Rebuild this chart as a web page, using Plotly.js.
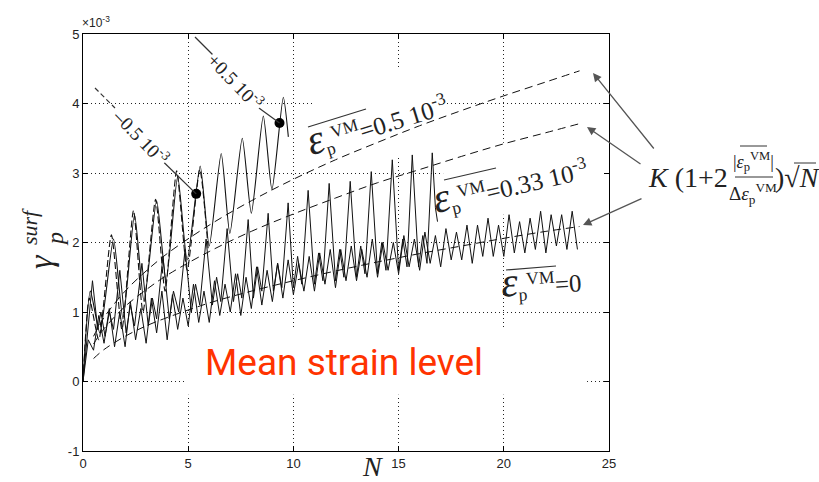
<!DOCTYPE html>
<html>
<head>
<meta charset="utf-8">
<script src="https://cdn.plot.ly/plotly-3.0.1.min.js"></script>
<style>html,body{margin:0;padding:0;background:#fff}#chart{width:819px;height:482px}</style>
</head>
<body>
<div id="chart"></div>
<script>
// ---- data (values in units of 1e-3) ----
// fitted curves K(1+2|e|/de)sqrt(N)
var fitN = [0.5, 1, 2, 3, 4, 6, 8, 10, 12, 14, 16, 18, 20, 22, 23.6];
var fitZero = [0.33, 0.46, 0.65, 0.80, 0.92, 1.13, 1.30, 1.45, 1.59, 1.72, 1.84, 1.95, 2.06, 2.16, 2.23];
var fit033 = [0.54, 0.76, 1.08, 1.32, 1.53, 1.87, 2.16, 2.41, 2.64, 2.86, 3.05, 3.24, 3.42, 3.58, 3.71];
var fit05 = [0.65, 0.92, 1.30, 1.59, 1.84, 2.25, 2.60, 2.91, 3.19, 3.44, 3.68, 3.90, 4.11, 4.31, 4.47];

// mean strain 0 simulation
var zeroN = [0,0.25,0.5,0.75,1,1.25,1.5,1.75,2,2.25,2.5,2.75,3,3.25,3.5,3.75,4,4.25,4.5,4.75,
  5,5.25,5.5,5.75,6,6.25,6.5,6.75,7,7.25,7.5,7.75,8,8.25,8.5,8.75,9,9.25,9.5,9.75,
  10,10.25,10.5,10.75,11,11.25,11.5,11.75,12,12.25,12.5,12.75,13,13.25,13.5,13.75,14,14.25,14.5,14.75,
  15,15.25,15.5,15.75,16,16.25,16.5,16.75,17,17.25,17.5,17.75,18,18.25,18.5,18.75,19,19.25,19.5,19.75,
  20,20.25,20.5,20.75,21,21.25,21.5,21.75,22,22.25,22.5,22.75,23,23.25,23.5];
var zeroY = [0,0.6,0.45,0.95, 0.55,1.05,0.5,1.0, 0.5,1.15,0.6,1.05, 0.55,1.2,0.7,1.3, 0.6,1.25,0.75,1.2,
  0.8,1.4,0.85,1.3, 0.85,1.45,0.95,1.4, 1.0,1.55,0.95,1.5, 1.05,1.65,1.1,1.6, 1.15,1.7,1.2,1.75,
  1.25,1.7,1.3,1.8, 1.3,1.85,1.4,1.9, 1.35,1.9,1.45,1.95, 1.45,1.9,1.5,2.05, 1.5,2.0,1.6,2.0,
  1.55,2.1,1.65,2.05, 1.6,2.15,1.7,2.1, 1.65,2.2,1.75,2.15, 1.75,2.25,1.7,2.25, 1.8,2.35,1.8,2.25,
  1.8,2.4,1.85,2.3, 1.85,2.35,1.9,2.45, 1.85,2.4,1.95,2.4, 1.9,2.45,1.9];

// mean strain 0.33e-3 simulation
var m033N = [0,0.2,0.45,0.7,0.85,1.05,1.25,1.45,1.75,
  2.05,2.25,2.45,2.8, 3.1,3.3,3.5,3.8, 4.1,4.3,4.55,4.85, 5.15,5.35,5.55,5.85,
  6.15,6.35,6.55,6.85, 7.15,7.35,7.55,7.85, 8.1,8.3,8.5,8.8, 9.05,9.25,9.45,9.75,
  10.0,10.2,10.4,10.7, 11.0,11.2,11.4,11.7, 12.0,12.2,12.4,12.7, 13.0,13.2,13.4,13.7,
  14.0,14.2,14.4,14.7, 15.0,15.2,15.4,15.65, 15.95,16.15,16.35,16.6, 16.75,16.85];
var m033Y = [0,0.7,1.45,0.75,1.0,0.65,1.0,0.75,1.6,
  0.7,1.1,0.8,1.7, 0.8,1.2,0.9,1.8, 0.9,1.3,1.0,1.9, 1.0,1.4,1.1,2.05,
  1.1,1.5,1.15,2.2, 1.15,1.55,1.2,2.33, 1.2,1.65,1.3,2.42, 1.3,1.7,1.35,2.57,
  1.35,1.8,1.4,2.75, 1.4,1.85,1.45,2.85, 1.45,1.9,1.5,2.88, 1.5,1.95,1.55,3.02,
  1.55,2.0,1.6,3.19, 1.6,2.05,1.65,3.26, 1.65,2.1,1.7,3.29, 2.5,2.3];

// mean strain +0.5e-3 simulation
var plusN = [0,0.35,0.8,1.45,1.9,2.45,2.9,3.5,3.95,4.5,4.95,5.57,6.0,6.57,6.98,7.57,8.0,8.57,8.98,9.52,9.76];
var plusY = [0,1.3,0.7,2.05,0.9,2.4,1.15,2.6,1.45,2.95,1.75,3.1,1.95,3.28,2.13,3.5,2.42,3.82,2.76,4.09,3.52];

// mean strain -0.5e-3 simulation
var minusN = [0,0.3,0.75,1.35,1.85,2.4,2.85,3.45,3.9,4.45,4.95,5.55,5.95];
var minusY = [0,1.2,0.6,2.11,0.75,2.46,1.0,2.62,1.3,3.03,1.6,3.05,1.9];

// highlighted points
var markN = [5.38, 9.34];
var markY = [2.70, 3.72];

var xTicks = [0, 5, 10, 15, 20, 25];
var yTicks = [-1, 0, 1, 2, 3, 4, 5];

// ---- helpers for placing text in pixels ----
var L = 83, R = 210, T = 34, B = 31, W = 819, H = 482;
function PX(p) { return (p - L) / (W - L - R); }
function PY(p) { return (H - B - p) / (H - T - B); }
function DX(p) { return (p - 82.7) / 21.05; }
function DY(p) { return (381.7 - p) / 69.5; }

var serif = 'Liberation Serif, Times New Roman, serif';
var dashFit = '8px,5px';

var traces = [
  {x: zeroN, y: zeroY, mode: 'lines', line: {color: '#111', width: 1}},
  {x: m033N, y: m033Y, mode: 'lines', line: {color: '#111', width: 1}},
  {x: minusN, y: minusY, mode: 'lines', line: {color: '#111', width: 1.1, dash: '7px,3px', shape: 'spline', smoothing: 0.6}},
  {x: plusN, y: plusY, mode: 'lines', line: {color: '#111', width: 1.1, shape: 'spline', smoothing: 0.6}},
  {x: fitN, y: fitZero, mode: 'lines', line: {color: '#111', width: 1, dash: dashFit, shape: 'spline'}},
  {x: fitN, y: fit033, mode: 'lines', line: {color: '#111', width: 1, dash: dashFit, shape: 'spline'}},
  {x: fitN, y: fit05, mode: 'lines', line: {color: '#111', width: 1, dash: dashFit, shape: 'spline'}},
  {x: markN, y: markY, mode: 'markers', marker: {color: '#000', size: 10}}
];

function pa(px, py, text, size, opts) {
  var a = {xref: 'paper', yref: 'paper', x: PX(px), y: PY(py), xanchor: 'center', yanchor: 'middle',
    showarrow: false, text: text, font: {family: serif, size: size, color: '#222'}};
  return Object.assign(a, opts || {});
}

var epsBig = '<span style="font-size:42px"><i>ε</i></span>';
var epsSmall = '<i>ε</i>';
var annotations = [
  // axis extras
  pa(80, 22, '×10<sup>-3</sup>', 12, {xanchor: 'left', font: {family: 'Liberation Sans, Arial, sans-serif', size: 12, color: '#222'}}),
  pa(372, 466, '<i>N</i>', 28),
  pa(40, 262, '<i>γ</i>', 34, {textangle: -90}),
  pa(29, 227, '<i>surf</i>', 22, {textangle: -90}),
  pa(55, 239, '<i>p</i>', 24, {textangle: -90}),
  // curve labels
  pa(376, 121, epsBig + '<sub>p</sub><sup>VM</sup>=0.5 10<sup>-3</sup>', 25, {textangle: -17}),
  pa(509, 182, epsBig + '<sub>p</sub><sup>VM</sup>=0.33 10<sup>-3</sup>', 25, {textangle: -13}),
  pa(541, 280, epsBig + '<sub>p</sub><sup>VM</sup>=0', 25, {textangle: -4}),
  pa(141, 136, '–0.5 10<sup>-3</sup>', 19, {textangle: 46, bgcolor: '#fff', borderpad: 0}),
  pa(236, 81, '+0.5 10<sup>-3</sup>', 19, {textangle: 46, bgcolor: '#fff', borderpad: 0}),
  // overlay caption
  pa(344, 362, 'Mean strain level', 37, {font: {family: 'Roboto, Liberation Sans, sans-serif', size: 37, color: '#ff3300'}}),
  // formula
  pa(646, 177, '<i>K</i> (1+2', 28, {xanchor: 'left'}),
  pa(753, 161, '|' + epsSmall + '<sub>p</sub><sup>VM</sup>|', 18),
  pa(753, 194, 'Δ' + epsSmall + '<sub>p</sub><sup>VM</sup>', 19),
  pa(773, 177, ')√<i>N</i>', 28, {xanchor: 'left'})
];
// arrows
[[593, 73, 62, 77], [587, 127, 55, 38], [583, 225, 60, -27]].forEach(function (a) {
  annotations.push({xref: 'paper', yref: 'paper', x: PX(a[0]), y: PY(a[1]), ax: a[2], ay: a[3], text: '',
    showarrow: true, arrowcolor: '#555', arrowwidth: 1.3, arrowhead: 2, arrowsize: 1.3, standoff: 0});
});

function pline(x0, y0, x1, y1, opts) {
  return Object.assign({type: 'line', xref: 'paper', yref: 'paper', x0: PX(x0), y0: PY(y0), x1: PX(x1), y1: PY(y1),
    line: {color: '#333', width: 1.2}}, opts || {});
}

var shapes = [
  // white label boxes hiding grid
  {type: 'rect', xref: 'x', yref: 'y', x0: DX(185), x1: DX(587), y0: DY(395), y1: DY(328),
   fillcolor: '#fff', line: {width: 0}, layer: 'between'},
  {type: 'rect', xref: 'x', yref: 'y', x0: DX(312), x1: DX(440), y0: DY(157), y1: DY(68),
   fillcolor: '#fff', line: {width: 0}, layer: 'between'},
  {type: 'rect', xref: 'x', yref: 'y', x0: DX(443), x1: DX(605), y0: DY(215), y1: DY(143),
   fillcolor: '#fff', line: {width: 0}, layer: 'between'},
  // leader lines
  pline(95, 88, 115, 108, {line: {color: '#333', width: 1.2, dash: '5px,3px'}}),
  {type: 'line', xref: 'x', yref: 'y', x0: DX(163), y0: DY(162), x1: markN[0], y1: markY[0], line: {color: '#333', width: 1.2}},
  pline(195, 37, 213, 55),
  {type: 'line', xref: 'x', yref: 'y', x0: DX(257), y0: DY(107), x1: markN[1], y1: markY[1], line: {color: '#333', width: 1.2}},
  // overlines of mean strain symbols
  pline(308, 127, 366, 109),
  pline(444, 180, 496, 168),
  pline(506, 270, 556, 266),
  pline(740, 146, 767, 146, {line: {color: '#333', width: 1}}),
  // fraction bar and root bar
  pline(735, 177, 773, 177),
  pline(794, 163, 816, 163, {line: {color: '#333', width: 1}})
];

var axisCommon = {
  showline: true, mirror: 'ticks', linecolor: '#000', linewidth: 1,
  ticks: 'inside', ticklen: 5, tickcolor: '#000', tickwidth: 1,
  showgrid: true, gridcolor: '#222', gridwidth: 1, griddash: '1px,3px',
  zeroline: false, tickfont: {family: 'Liberation Sans, Arial, sans-serif', size: 13, color: '#222'}
};

var layout = {
  width: W, height: H,
  margin: {l: L, r: R, t: T, b: B, pad: 0},
  paper_bgcolor: '#fff', plot_bgcolor: '#fff',
  showlegend: false,
  xaxis: Object.assign({}, axisCommon, {range: [0, 25], tickvals: xTicks, ticktext: xTicks.map(String)}),
  yaxis: Object.assign({}, axisCommon, {range: [-1, 5], tickvals: yTicks, ticktext: yTicks.map(String)}),
  annotations: annotations,
  shapes: shapes
};

Plotly.newPlot('chart', traces, layout, {staticPlot: true, displayModeBar: false});
</script>
</body>
</html>
